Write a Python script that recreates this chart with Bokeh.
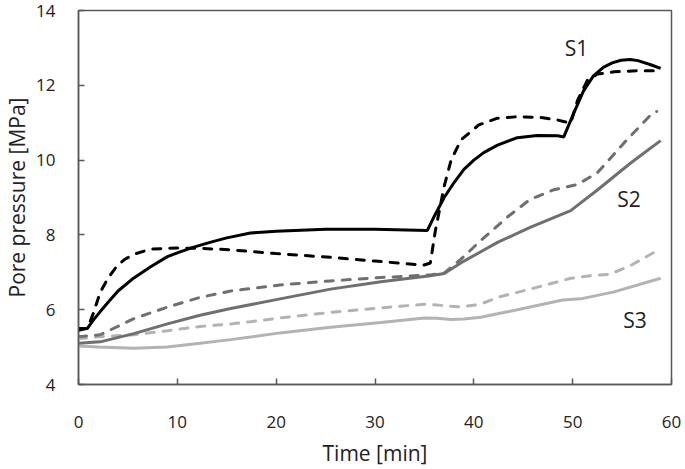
from bokeh.plotting import figure
from bokeh.models import Range1d, FixedTicker, ColumnDataSource
from bokeh.core.properties import value
from bokeh.embed import file_html
from bokeh.resources import INLINE

# ---- data ----
s1_solid_t = [0, 0.9, 1.5, 2.2, 3, 4, 5.6, 7.3, 9, 10, 11.5, 13.3, 15, 17.4, 20, 25, 30, 35.3,
              36, 37, 38, 39, 40, 41, 42.4, 44.4, 46.4, 48.5, 49.1, 50.1, 51.1, 52.1, 53.1, 54,
              54.9, 55.8, 56.6, 57.9, 58.9]
s1_solid_p = [5.5, 5.5, 5.72, 5.95, 6.2, 6.5, 6.85, 7.15, 7.42, 7.52, 7.66, 7.8, 7.92, 8.05, 8.1,
              8.15, 8.15, 8.12, 8.5, 9.0, 9.4, 9.75, 10.0, 10.2, 10.4, 10.6, 10.66, 10.65, 10.62,
              11.25, 11.85, 12.25, 12.48, 12.6, 12.67, 12.69, 12.66, 12.55, 12.45]

s1_dash_t = [0, 0.9, 1.5, 2.2, 3, 3.9, 4.7, 5.6, 7.3, 10, 12.3, 15.4, 20, 25.5, 30, 34.9, 35.6,
             36.1, 37, 37.7, 38.7, 40.5, 42.4, 44.4, 46.8, 48.5, 49.8, 50.5, 51.5, 52.5, 54.2,
             56.5, 58.6]
s1_dash_p = [5.45, 5.5, 5.9, 6.47, 6.85, 7.17, 7.35, 7.48, 7.62, 7.65, 7.64, 7.6, 7.5, 7.4, 7.3,
             7.19, 7.25, 8.1, 9.3, 10.0, 10.54, 10.94, 11.12, 11.16, 11.14, 11.07, 10.99, 11.6,
             12.14, 12.3, 12.36, 12.39, 12.39]

s2_solid_t = [0, 2.2, 5.6, 9, 12.3, 15.4, 20.4, 25.5, 30.6, 35.6, 37, 39, 40.7, 42.4, 45.7,
              49.8, 52.5, 55.9, 58.9]
s2_solid_p = [5.1, 5.14, 5.36, 5.62, 5.85, 6.03, 6.29, 6.55, 6.75, 6.91, 6.97, 7.3, 7.55, 7.8,
              8.2, 8.65, 9.2, 9.93, 10.52]

s2_dash_t = [0, 2.2, 5.6, 9, 12.3, 15.4, 20.4, 25.5, 30.6, 35.6, 37, 38.7, 40.7, 42, 43.5,
             45.7, 48, 50.5, 52.5, 55.2, 57.9, 58.5]
s2_dash_p = [5.28, 5.33, 5.76, 6.07, 6.33, 6.5, 6.66, 6.77, 6.86, 6.93, 6.98, 7.35, 7.85, 8.15,
             8.5, 8.95, 9.2, 9.35, 9.66, 10.46, 11.21, 11.3]

s3_solid_t = [0, 2, 5.6, 9, 12.3, 15.4, 17.4, 20.4, 25.5, 30.6, 35, 36.3, 37.7, 39, 40.7, 42.4,
              45.7, 49, 50.8, 54.1, 58.9]
s3_solid_p = [5.03, 5.0, 4.97, 5.0, 5.1, 5.2, 5.27, 5.38, 5.53, 5.66, 5.78, 5.77, 5.74, 5.75,
              5.8, 5.89, 6.07, 6.26, 6.29, 6.47, 6.84]

s3_dash_t = [0, 2.2, 5.6, 9, 12.3, 15.4, 17.4, 20.4, 25.5, 30.6, 35.2, 37, 38.7, 40.7, 42.4,
             45.7, 49.8, 51.8, 53.8, 56, 58.2]
s3_dash_p = [5.22, 5.28, 5.33, 5.44, 5.55, 5.62, 5.68, 5.78, 5.93, 6.05, 6.15, 6.11, 6.07, 6.15,
             6.33, 6.55, 6.84, 6.91, 6.95, 7.2, 7.53]

label_names = ["S1", "S2", "S3"]
label_t = [50.4, 55.7, 56.3]
label_p = [12.99, 8.95, 5.73]

x_ticks = [0, 10, 20, 30, 40, 50, 60]
y_ticks = [4, 6, 8, 10, 12, 14]
x_title = "Time [min]"
y_title = "Pore pressure [MPa]"

FONT = "Open Sans"
AX = "#595959"
TXT = "#222222"

p = figure(width=685, height=469, output_backend="svg", toolbar_location=None,
           x_range=Range1d(0, 60), y_range=Range1d(4, 14),
           min_border_left=78, min_border_right=14, min_border_top=10, min_border_bottom=83)
p.background_fill_color = "white"
p.border_fill_color = "white"
p.outline_line_color = AX
p.outline_line_width = 1.5
p.xgrid.visible = False
p.ygrid.visible = False

p.xaxis.ticker = FixedTicker(ticks=x_ticks)
p.yaxis.ticker = FixedTicker(ticks=y_ticks)
for ax in (p.xaxis, p.yaxis):
    ax.axis_line_color = AX
    ax.axis_line_width = 1.5
    ax.major_tick_line_color = AX
    ax.major_tick_line_width = 1.5
    ax.major_tick_in = 6
    ax.major_tick_out = 0
    ax.minor_tick_line_color = None
    ax.major_label_text_font = FONT
    ax.major_label_text_font_size = "17px"
    ax.major_label_text_color = TXT
    ax.axis_label_text_font = FONT
    ax.axis_label_text_font_size = "21px"
    ax.axis_label_text_font_style = "normal"
    ax.axis_label_text_color = TXT

p.xaxis.axis_label = x_title
p.yaxis.axis_label = y_title
p.yaxis.major_label_standoff = 23
p.yaxis.axis_label_standoff = 2
p.xaxis.major_label_standoff = 31
p.xaxis.axis_label_standoff = 8

DASH = "8 9"
W = 3
p.line(s3_solid_t, s3_solid_p, line_color="#b3b3b3", line_width=W)
p.line(s3_dash_t, s3_dash_p, line_color="#b3b3b3", line_width=W, line_dash=DASH, line_cap="round")
p.line(s2_solid_t, s2_solid_p, line_color="#6f6f6f", line_width=W)
p.line(s2_dash_t, s2_dash_p, line_color="#6f6f6f", line_width=W, line_dash=DASH, line_cap="round")
p.line(s1_solid_t, s1_solid_p, line_color="#000000", line_width=W)
p.line(s1_dash_t, s1_dash_p, line_color="#000000", line_width=W, line_dash=DASH, line_cap="round")

src = ColumnDataSource(dict(x=label_t, y=label_p, t=label_names))
p.text(x="x", y="y", text="t", source=src, text_font=value(FONT), text_font_size="21px",
       text_align="center", text_baseline="middle", text_color=TXT)

open("out.html", "w").write(file_html(p, INLINE))
